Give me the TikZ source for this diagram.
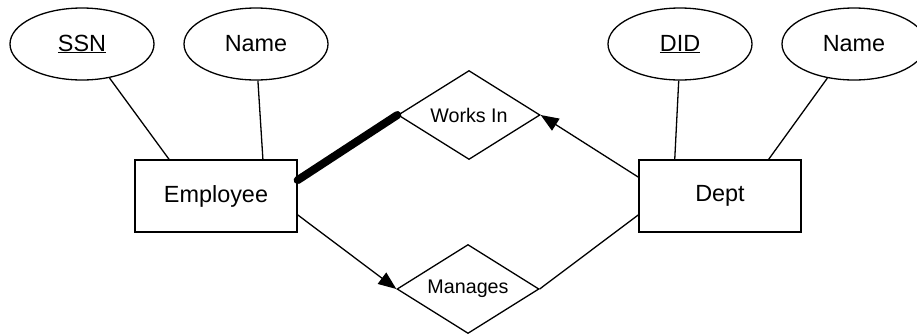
\documentclass[tikz,border=0pt]{standalone}
\usepackage{fontspec}
\setmainfont{Liberation Sans}
\usetikzlibrary{shapes.geometric,arrows.meta}
\begin{document}
\begin{tikzpicture}[x=1pt,y=-1pt,
  every node/.style={inner sep=0pt, line width=1.3pt},
  bigtext/.style={font=\fontsize{23.4}{28}\selectfont},
  smalltext/.style={font=\fontsize{19.7}{24}\selectfont},
  attrib/.style={draw, ellipse, minimum width=144pt, minimum height=72pt, bigtext},
  entity/.style={draw, rectangle, minimum width=162pt, minimum height=72pt, bigtext},
  relship/.style={draw, diamond, aspect=1.6, minimum width=142pt, minimum height=89pt, smalltext},
  link/.style={line width=1.3pt},
  heavy/.style={line width=8pt, line cap=round},
  keyarrow/.style={line width=1.3pt, -{Triangle[length=18pt,width=14pt]}}]
\useasboundingbox (0,0) rectangle (917,333);
\clip (0,0) rectangle (917,333);

% attributes
\node[attrib] (ssn)   at (82,44)  {\underline{SSN}};
\node[attrib] (ename) at (256,44) {Name};
\node[attrib] (did)   at (680,44) {\underline{DID}};
\node[attrib] (dname) at (854,44) {Name};

% entities
\node[entity] (emp)  at (216,196) {Employee};
\node[entity] (dept) at (720,196) {Dept};

% relationships
\node[relship] (works) at (469,115) {Works In};
\node[relship] (man)   at (468,289) {Manages};

% attribute links
\draw[link] (ssn.-51.5) -- (emp.142);
\draw[link] (ename.-87) -- (emp.38);
\draw[link] (did.-92) -- (dept.141);
\draw[link] (dname.232.6) -- (dept.37);

% relationship links
\draw[heavy] (emp.11) -- (works.west);
\draw[keyarrow] (dept.167.5) -- (works.east);
\draw[keyarrow] (emp.-13) -- (man.west);
\draw[link] (man.east) -- (dept.193);
\end{tikzpicture}
\end{document}
